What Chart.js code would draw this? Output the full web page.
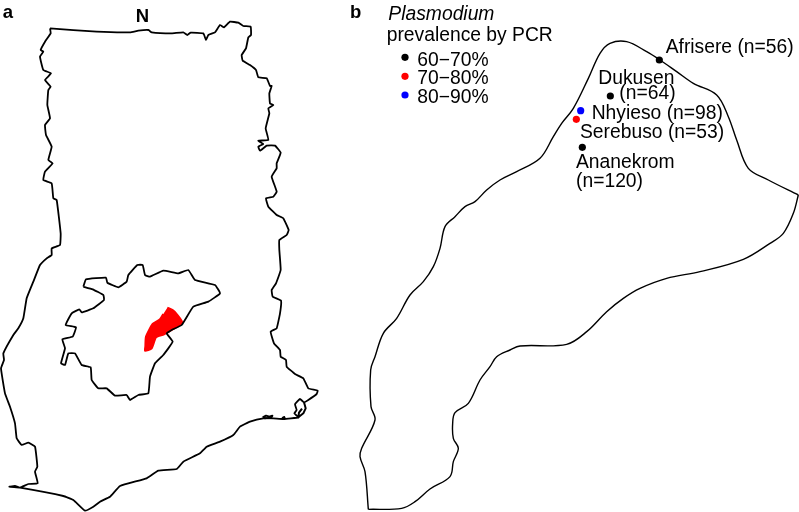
<!DOCTYPE html>
<html>
<head>
<meta charset="utf-8">
<style>
  body { margin: 0; background: #fff; }
  #wrap { width: 799px; height: 512px; }
</style>
</head>
<body>
<div id="wrap"><canvas id="mapChart" width="799" height="512"></canvas></div>
<script src="https://cdn.jsdelivr.net/npm/chart.js@4"></script>
<script>
// Everything is in map units, 3 units to one picture pixel
const ghanaOutline = [150,85, 290,95, 390,97, 415,92, 445,90, 455,97, 515,100, 550,97, 562,105, 572,98, 610,100, 618,120, 625,105, 645,97, 660,75, 672,82, 690,65, 715,68, 730,78, 752,80, 753,105, 745,112, 738,145, 725,165, 728,182, 750,195, 768,210, 775,232, 800,235, 810,258, 815,258, 808,280, 810,310, 820,315, 805,325, 808,340, 797,385, 805,420, 775,422, 790,432, 775,440, 780,452, 800,437, 825,437, 842,458, 830,490, 830,505, 815,530, 830,575, 820,590, 798,595, 805,620, 830,645, 850,655, 866,690, 860,705, 838,720, 838,750, 842,810, 828,850, 815,870, 818,890, 843,902, 840,940, 830,985, 812,995, 822,1030, 840,1050, 842,1070, 858,1080, 860,1100, 885,1122, 910,1135, 925,1165, 953,1172, 950,1182, 925,1200, 912,1207, 900,1197, 885,1213, 890,1230, 883,1240, 895,1252, 850,1257, 820,1255, 790,1255, 750,1265, 720,1280, 700,1305, 660,1325, 620,1340, 600,1360, 550,1385, 530,1407, 475,1412, 440,1435, 360,1458, 330,1490, 300,1505, 280,1520, 255,1532, 220,1500, 190,1488, 60,1463, 28,1460, 45,1458, 60,1463, 85,1452, 113,1450, 105,1415, 112,1400, 105,1340, 85,1328, 65,1335, 50,1315, 45,1270, 30,1220, 15,1180, 3,1105, 12,1080, 10,1060, 40,1005, 55,985, 70,955, 80,895, 100,845, 120,795, 140,775, 155,765, 155,745, 180,735, 182,700, 170,600, 160,595, 155,550, 130,540, 135,515, 158,490, 145,480, 155,440, 138,405, 135,375, 150,355, 142,315, 145,270, 152,260, 135,240, 153,220, 130,210, 120,170, 130,155, 122,150, 135,125, 152,100, 150,85];
const lagoonInner = [912,1207, 917,1225, 910,1240, 895,1252, 897,1238, 906,1226];
const coastBlobs = [788,1252, 798,1247, 808,1250, 817,1247, 813,1254, 795,1255, 788,1252];
const coastSpeck = [846,1254, 853,1250, 855,1255];
const regionOutline = [250,860, 258,838, 318,833, 322,848, 355,862, 380,845, 385,825, 412,795, 428,795, 435,825, 450,830, 490,812, 535,820, 565,810, 585,840, 645,855, 660,880, 625,905, 580,920, 545,975, 515,990, 500,1000, 518,1025, 490,1065, 465,1090, 450,1130, 445,1180, 415,1185, 390,1200, 380,1185, 345,1187, 320,1165, 295,1165, 275,1140, 272,1102, 245,1095, 225,1060, 205,1060, 195,1095, 183,1090, 195,1045, 187,1018, 218,1010, 228,982, 197,975, 215,940, 238,928, 245,937, 280,925, 312,900, 310,885, 278,868, 250,860];
const districtPatch = [502,923, 518,930, 530,942, 547,968, 520,987, 492,1003, 468,1012, 455,1045, 435,1052, 436,1040, 438,1010, 458,972, 480,958, 490,942];
const districtWest = [1105,1528, 1095,1415, 1080,1370, 1085,1345, 1125,1260, 1113,1220, 1112,1110, 1125,1070, 1150,1000, 1190,955, 1230,885, 1270,845, 1300,800, 1320,745, 1335,680, 1365,650, 1395,620, 1425,605, 1460,570, 1500,540, 1550,515, 1620,475, 1660,410, 1685,370, 1720,325, 1765,235, 1800,160, 1830,130, 1880,125, 1940,155, 1980,180, 2030,215, 2080,250, 2150,285, 2185,350, 2210,420, 2245,505, 2305,540, 2395,585];
const districtEast = [2395,585, 2380,640, 2350,700, 2310,730, 2230,778, 2100,815, 2000,835, 1920,865, 1870,895, 1820,935, 1760,995, 1700,1033, 1560,1038, 1530,1050, 1490,1070, 1470,1100, 1440,1140, 1405,1210, 1365,1238, 1358,1270, 1360,1315, 1375,1345, 1360,1385, 1350,1430, 1290,1467, 1245,1505, 1205,1525, 1105,1528];

const sites6070 = [1978,180, 1831,288, 1747,442];
const sites7080 = [1729,358];
const sites8090 = [1742,332];
const legend6070 = [1215,172];
const legend7080 = [1215,229];
const legend8090 = [1215,285];

const labels = [
  ["a", 8, 55, "bold 18.5px"],
  ["N", 407, 66, "bold 18.5px"],
  ["b", 1050, 55, "bold 18.5px"],
  ["Plasmodium", 1165, 60, "italic 19.3px"],
  ["prevalence by PCR", 1160, 122, "19.3px"],
  ["60\u221270%", 1252, 197, "19.3px"],
  ["70\u221280%", 1252, 253, "19.3px"],
  ["80\u221290%", 1252, 308, "19.3px"],
  ["Afrisere (n=56)", 1997, 158, "19.3px"],
  ["Dukusen", 1795, 252, "19.3px"],
  ["(n=64)", 1858, 297, "19.3px"],
  ["Nhyieso (n=98)", 1775, 358, "19.3px"],
  ["Serebuso (n=53)", 1740, 415, "19.3px"],
  ["Ananekrom", 1728, 503, "19.3px"],
  ["(n=120)", 1728, 560, "19.3px"],
];

function toPoints(list) {
  const pts = [];
  for (let i = 0; i < list.length; i += 2) pts.push({ x: list[i], y: list[i + 1] });
  return pts;
}

function outlineSet(list, width, tension) {
  return { data: toPoints(list), showLine: true, borderColor: "#000", borderWidth: width, pointRadius: 0, fill: false, tension: tension, borderJoinStyle: "round" };
}

function dotSet(list, color) {
  return { data: toPoints(list), showLine: false, backgroundColor: color, borderWidth: 0, pointRadius: 3.6 };
}

const textPlugin = {
  id: "mapText",
  afterDatasetsDraw(chart) {
    const c = chart.ctx;
    c.save();
    c.fillStyle = "#000";
    c.textBaseline = "alphabetic";
    labels.forEach(function (l) {
      c.font = l[3] + ' "Liberation Sans", Arial, sans-serif';
      c.fillText(l[0], chart.scales.x.getPixelForValue(l[1]), chart.scales.y.getPixelForValue(l[2]));
    });
    c.restore();
  },
};

new Chart(document.getElementById("mapChart").getContext("2d"), {
  type: "scatter",
  data: {
    datasets: [
      dotSet(sites6070, "#000"),
      dotSet(sites7080, "#f00"),
      dotSet(sites8090, "#00f"),
      dotSet(legend6070, "#000"),
      dotSet(legend7080, "#f00"),
      dotSet(legend8090, "#00f"),
      outlineSet(regionOutline, 1.8, 0.1),
      outlineSet(ghanaOutline, 1.8, 0.1),
      outlineSet(lagoonInner, 2, 0),
      outlineSet(coastBlobs, 2, 0),
      outlineSet(coastSpeck, 1.5, 0),
      outlineSet(districtWest, 1.4, 0.35),
      outlineSet(districtEast, 1.4, 0.35),
      { data: toPoints(districtPatch), showLine: true, borderColor: "#f00", backgroundColor: "#f00", borderWidth: 2, pointRadius: 0, tension: 0.2, fill: "shape" },
    ],
  },
  options: {
    responsive: false,
    animation: false,
    clip: false,
    layout: { padding: 0, autoPadding: false },
    plugins: { legend: { display: false }, tooltip: { enabled: false } },
    scales: {
      x: { type: "linear", display: false, min: 0, max: 2397 },
      y: { type: "linear", display: false, min: 0, max: 1536, reverse: true },
    },
  },
  plugins: [textPlugin],
});
</script>
</body>
</html>
